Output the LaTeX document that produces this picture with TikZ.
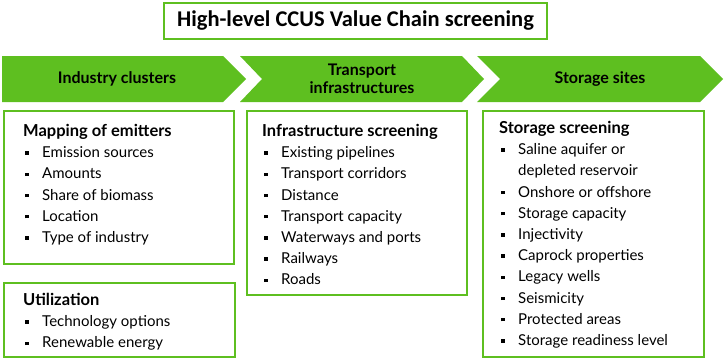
\documentclass[tikz,border=0pt]{standalone}
\usepackage{fontspec}
\setmainfont{Lato}
\newfontfamily\titlefont{Carlito}
\definecolor{ccusgreen}{RGB}{94,191,32}
\newcommand{\itm}{\makebox[19pt][l]{\hspace{2pt}\rule[2.8pt]{3.4pt}{3.4pt}}}
\newcommand{\hd}[1]{{\bfseries\fontsize{16.5}{21.2}\selectfont #1}}
\tikzset{
  chevlabel/.style={font=\fontsize{16}{18}\selectfont\bfseries, align=center, inner sep=0pt},
  listbox/.style={draw=ccusgreen, line width=1.6pt, anchor=north west, inner sep=0pt},
  listtext/.style={anchor=north west, align=left, inner sep=0pt, font=\fontsize{15}{21.2}\selectfont},
}
\begin{document}
\begin{tikzpicture}[x=1pt,y=-1pt]
\useasboundingbox (0,0) rectangle (726,359);
% title
\node[draw=ccusgreen, line width=1.6pt, minimum width=383pt, minimum height=36pt,
  font=\titlefont\bfseries\fontsize{22.5}{26}\selectfont] (title) at (355.5,21)
  {High-level CCUS Value Chain screening};
% chevrons
\fill[ccusgreen] (2,56) -- (223,56) -- (246,79) -- (223,102) -- (2,102) -- cycle;
\fill[ccusgreen] (240,56) -- (462,56) -- (484,79) -- (462,102) -- (240,102) -- (262,79) -- cycle;
\fill[ccusgreen] (477,56) -- (700,56) -- (723,79) -- (700,102) -- (477,102) -- (500,79) -- cycle;
\node[chevlabel] (industry) at (117,79) {Industry clusters};
\node[chevlabel] (transport) at (362,79) {Transport\\infrastructures};
\node[chevlabel] (storage) at (600,79) {Storage sites};
% boxes
\node[listbox, minimum width=230pt, minimum height=153pt] (emitbox) at (3,110) {};
\node[listbox, minimum width=231pt, minimum height=74pt] (utilbox) at (3,282) {};
\node[listbox, minimum width=220pt, minimum height=184pt] (infrabox) at (246,110) {};
\node[listbox, minimum width=221pt, minimum height=246pt] (storebox) at (482,110) {};
% box texts
\node[listtext] (emittext) at ([shift={(20,14)}]emitbox.north west)
  {\hd{Mapping of emitters}\\
   \itm Emission sources\\
   \itm Amounts\\
   \itm Share of biomass\\
   \itm Location\\
   \itm Type of industry};
\node[listtext] (utiltext) at ([shift={(20,11)}]utilbox.north west)
  {\hd{Utilization}\\
   \itm Technology options\\
   \itm Renewable energy};
\node[listtext] (infratext) at ([shift={(16,14)}]infrabox.north west)
  {\hd{Infrastructure screening}\\
   \itm Existing pipelines\\
   \itm Transport corridors\\
   \itm Distance\\
   \itm Transport capacity\\
   \itm Waterways and ports\\
   \itm Railways\\
   \itm Roads};
\node[listtext] (storetext) at ([shift={(17,11)}]storebox.north west)
  {\hd{Storage screening}\\
   \itm Saline aquifer or\\
   \hspace*{19pt}depleted reservoir\\
   \itm Onshore or offshore\\
   \itm Storage capacity\\
   \itm Injectivity\\
   \itm Caprock properties\\
   \itm Legacy wells\\
   \itm Seismicity\\
   \itm Protected areas\\
   \itm Storage readiness level};
\end{tikzpicture}
\end{document}
